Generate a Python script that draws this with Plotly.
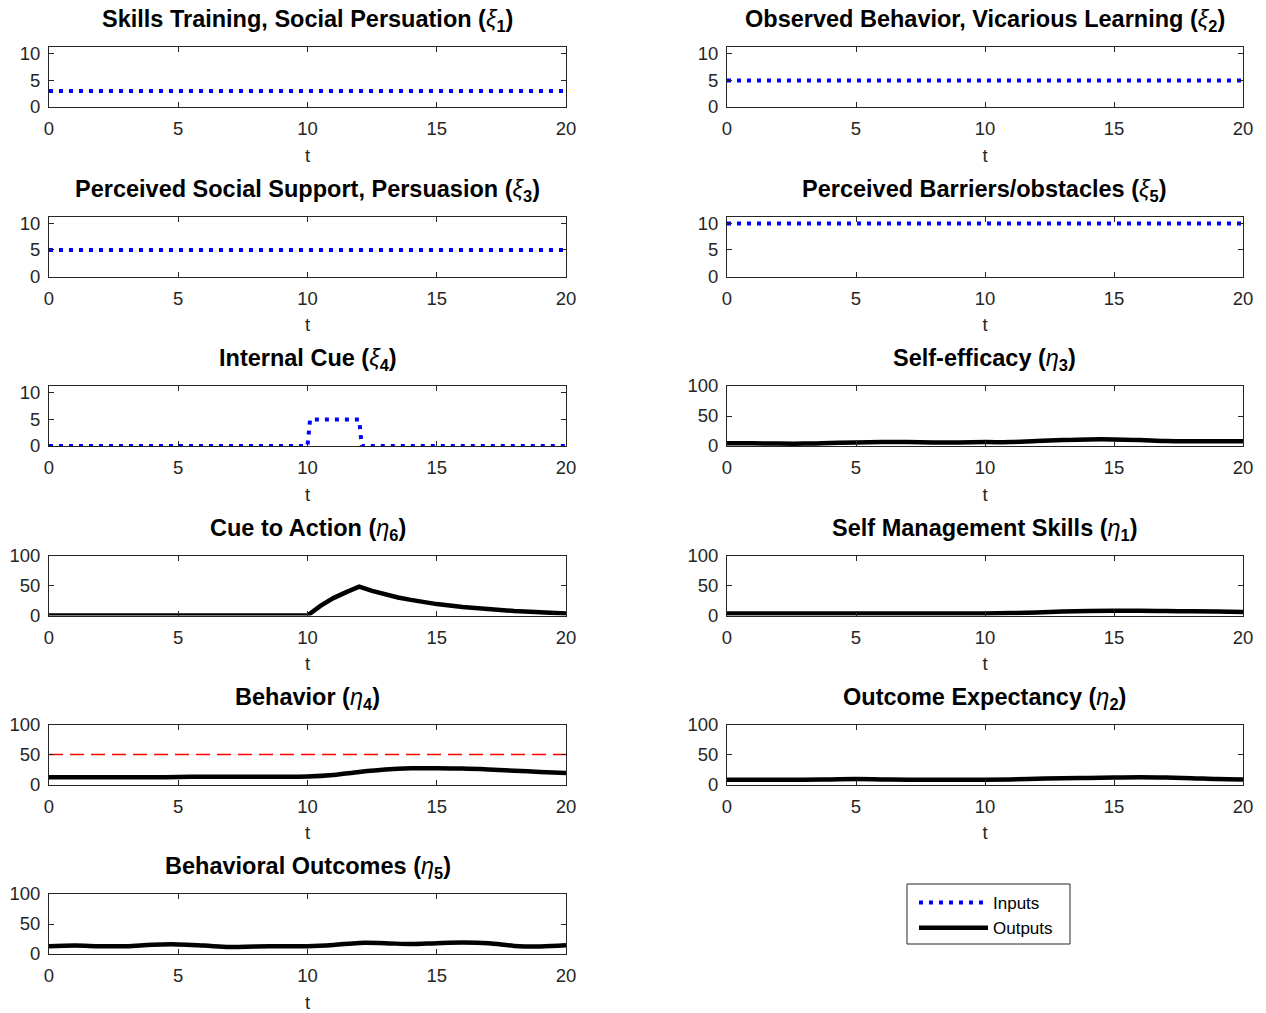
import plotly.graph_objects as go

# ---- time grids ----
t_const = [0, 20]
t_cue_in = [0, 10, 10.1, 12, 12.1, 20]
t_out = list(range(0, 21))
t_cue_out = [0, 10, 10.5, 11, 11.5, 12, 12.5, 13, 13.5, 14, 15, 16, 17, 18, 19, 20]

# ---- inputs ----
xi1 = [3, 3]
xi2 = [5, 5]
xi3 = [5, 5]
xi5 = [10, 10]
xi4 = [0, 0, 5, 5, 0, 0]

# ---- outputs ----
eta3 = [4.5, 4.5, 4, 4, 5, 6, 6.5, 6.5, 6, 6, 6.5, 6.5, 8.5, 10, 11, 11, 10, 8.5, 8, 8, 8]
eta6 = [0, 0, 16, 29, 39, 48, 41, 35, 30, 26, 19, 14, 10.5, 7.5, 5.5, 3.5]
eta1 = [3.5, 3.5, 3.5, 3.5, 3.5, 3.5, 3.5, 3.5, 3.5, 3.5, 3.5, 4, 5, 6.5, 7.5, 8, 8, 7.5, 7, 6.5, 6]
eta4 = [12, 12, 12, 12, 12, 12.5, 13, 13, 13, 13, 13.5, 16, 21, 25, 27, 27, 26.5, 25, 23, 21, 19]
eta2 = [8, 8, 8, 8, 8.5, 9, 8.5, 8, 8, 8, 8, 8.5, 9.5, 10.5, 11, 11.5, 12, 11.5, 10.5, 9, 8.5]
eta5 = [13, 14, 13, 13, 15.5, 16, 14, 11.5, 12.5, 13, 13, 15, 18.5, 18, 16.5, 18, 19, 18, 13.5, 12.5, 14.5]
behavior_target = [50, 50]

x_ticks = [0, 5, 10, 15, 20]
in_ticks = [0, 5, 10]
out_ticks = [0, 50, 100]
in_range = [0, 11.3]
out_range = [0, 100]

W, H = 1266, 1013
FONT = "Liberation Sans, Arial, Helvetica, sans-serif"
AX = "#262626"

col_x = [(49, 566), (727, 1243)]
row_bottom = [107, 276.5, 446, 615.5, 784.5, 954]
row_h = 60
legend_box = (907, 884, 1070, 944)  # left, top, right, bottom in px


def ttl(name, sym, sub):
    return f"<b>{name} (</b><i>{sym}</i><b><sub>{sub}</sub>)</b>"


# (row, col, title, kind, series)
panels = [
    (0, 0, ttl("Skills Training, Social Persuation", "ξ", 1), "in", [(t_const, xi1)]),
    (0, 1, ttl("Observed Behavior, Vicarious Learning", "ξ", 2), "in", [(t_const, xi2)]),
    (1, 0, ttl("Perceived Social Support, Persuasion", "ξ", 3), "in", [(t_const, xi3)]),
    (1, 1, ttl("Perceived Barriers/obstacles", "ξ", 5), "in", [(t_const, xi5)]),
    (2, 0, ttl("Internal Cue", "ξ", 4), "in", [(t_cue_in, xi4)]),
    (2, 1, ttl("Self-efficacy", "η", 3), "out", [(t_out, eta3)]),
    (3, 0, ttl("Cue to Action", "η", 6), "out", [(t_cue_out, eta6)]),
    (3, 1, ttl("Self Management Skills", "η", 1), "out", [(t_out, eta1)]),
    (4, 0, ttl("Behavior", "η", 4), "out", [(t_out, eta4)]),
    (4, 1, ttl("Outcome Expectancy", "η", 2), "out", [(t_out, eta2)]),
    (5, 0, ttl("Behavioral Outcomes", "η", 5), "out", [(t_out, eta5)]),
]

fig = go.Figure()
layout = {}
annotations = []
shown = {"in": False, "out": False}

for i, (r, c, title, kind, series) in enumerate(panels):
    k = i + 1
    xa = "x" if k == 1 else f"x{k}"
    ya = "y" if k == 1 else f"y{k}"
    x0, x1 = col_x[c]
    yb = row_bottom[r]
    yt = yb - row_h
    common = dict(
        showline=True, linecolor=AX, linewidth=1, mirror="allticks",
        ticks="inside", ticklen=5, tickwidth=1, tickcolor=AX,
        showgrid=False, zeroline=False, automargin=False,
        tickfont=dict(family=FONT, size=18.5, color=AX),
    )
    layout["xaxis" if k == 1 else f"xaxis{k}"] = dict(
        common, domain=[x0 / W, x1 / W], anchor=ya, range=[0, 20],
        tickvals=x_ticks, ticklabelstandoff=5,
        title=dict(text="t", font=dict(family=FONT, size=18.5, color=AX), standoff=10),
    )
    layout["yaxis" if k == 1 else f"yaxis{k}"] = dict(
        common, domain=[1 - yb / H, 1 - yt / H], anchor=xa,
        range=in_range if kind == "in" else out_range,
        tickvals=in_ticks if kind == "in" else out_ticks,
        ticklabelstandoff=4,
    )
    if k == 9:
        fig.add_trace(go.Scatter(
            x=t_const, y=behavior_target, mode="lines", xaxis=xa, yaxis=ya,
            line=dict(color="#ff0000", width=1.4, dash="14px,7px"), showlegend=False,
        ))
    for tx, ty in series:
        if kind == "in":
            line = dict(color="#0000ff", width=4, dash="4px,6px")
            name = "Inputs"
        else:
            line = dict(color="#000000", width=4.5, shape="spline" if tx is t_out else "linear")
            name = "Outputs"
        fig.add_trace(go.Scatter(
            x=tx, y=ty, mode="lines", xaxis=xa, yaxis=ya, line=line, name=name,
            showlegend=not shown[kind],
        ))
        shown[kind] = True
    annotations.append(dict(
        text=title, x=(x0 + x1) / 2 / W, y=1 - yt / H, xref="paper", yref="paper",
        xanchor="center", yanchor="bottom", yshift=10, showarrow=False,
        font=dict(family=FONT, size=23.5, color="#000000"),
    ))

lx0, ly0, lx1, ly1 = legend_box
fig.update_layout(
    **layout,
    annotations=annotations,
    shapes=[dict(
        type="rect", xref="paper", yref="paper",
        x0=lx0 / W, x1=lx1 / W, y0=1 - ly1 / H, y1=1 - ly0 / H,
        line=dict(color=AX, width=1), fillcolor="rgba(0,0,0,0)", layer="above",
    )],
    width=W, height=H,
    margin=dict(l=0, r=0, t=0, b=0, autoexpand=False),
    paper_bgcolor="white", plot_bgcolor="white",
    font=dict(family=FONT, color=AX),
    legend=dict(
        x=(lx0 + 7) / W, y=1 - (ly0 + 1) / H, xanchor="left", yanchor="top",
        borderwidth=0, bgcolor="rgba(0,0,0,0)",
        font=dict(family=FONT, size=17, color="#000000"),
        itemwidth=69, tracegroupgap=0,
    ),
)

fig.write_html("out.html")
